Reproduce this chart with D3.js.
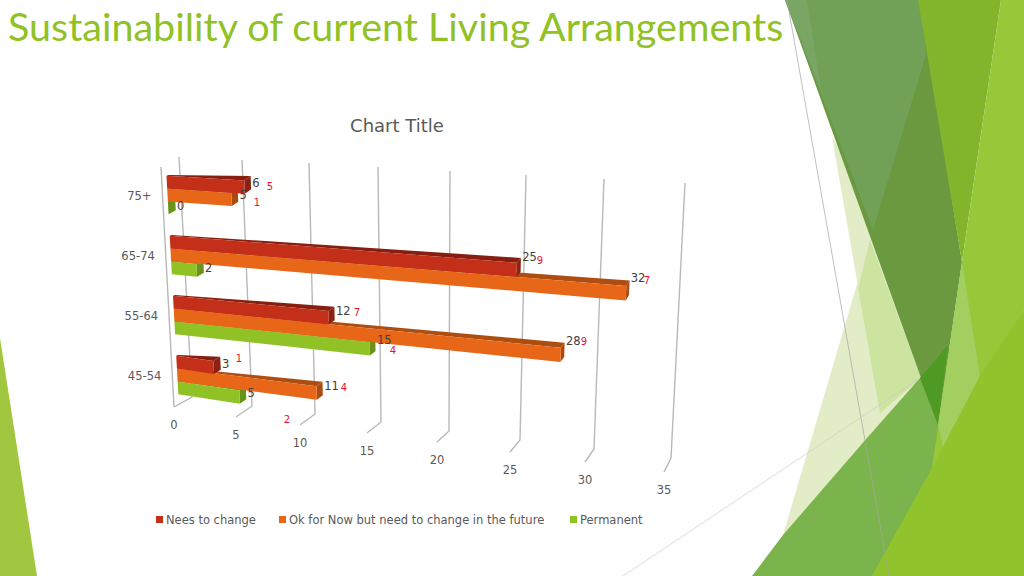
<!DOCTYPE html>
<html lang="en">

<head>
  <meta charset="UTF-8">
  <title>Sustainability of current Living Arrangements</title>
  <script src="https://d3js.org/d3.v7.min.js"></script>
  <style>
    html, body { margin: 0; padding: 0; background: #fff; overflow: hidden; }
    text { font-family: "DejaVu Sans", sans-serif; fill: #595959; }
  </style>
</head>

<body>
  <script>
    // bottom row first, the chart stacks the groups upward
    const categories = ["45-54", "55-64", "65-74", "75+"];
    const seriesNames = ["Nees to change", "Ok for Now but need to change in the future", "Permanent"];
    const needsChange = [3, 12, 25, 6];
    const okForNow = [11, 28, 32, 5];
    const permanent = [5, 15, 2, 0];
    const valueTicks = [0, 5, 10, 15, 20, 25, 30, 35];
    const seriesColors = ["#C42F1A", "#E76618", "#90C226"];
    const sideColors = ["#8A2112", "#A94C12", "#6A9419"];
    const topColors = ["#861F10", "#AD4E10", "#709A1C"];

    // red hand written notes on the slide
    const noteLabels = ["5", "1", "9", "7", "7", "9", "4", "1", "4", "2"];

    var svg = d3.select("body").append("svg")
      .attr("width", 1024)
      .attr("height", 576);

    // slide decoration
    const decoration = [
      ["#E2EDC8", [[870, 240], [783, 535], [860, 576], [960, 400]]],
      ["#E2EDC8", [[832, 137], [880, 413], [925, 375], [900, 250]]],
      ["#CDE3A0", [[870, 240], [858, 288], [880, 413], [921, 378]]],
      ["#7BB44C", [[752, 576], [783, 535], [867, 438], [920, 378], [948, 345], [965, 440], [880, 576]]],
      ["#6B993F", [[785, 0], [920, 0], [962, 262], [938, 425]]],
      ["#70A157", [[785, 0], [920, 0], [926, 55], [873, 230]]],
      ["#79A565", [[785, 0], [807, 0], [821, 90]]],
      ["#4F9A23", [[920, 378], [948, 345], [938, 425]]],
      ["#83B52C", [[918, 0], [1001, 0], [962, 262]]],
      ["#96C83A", [[1001, 0], [1024, 0], [1024, 310], [872, 576], [915, 576], [932, 468], [962, 262]]],
      ["#A2CF60", [[962, 262], [980, 376], [943, 447], [938, 425]]],
      ["#91C42C", [[872, 576], [932, 468], [980, 376], [1024, 310], [1024, 576]]],
      ["#A1C63F", [[0, 338], [37, 576], [0, 576]]]
    ];

    svg.selectAll(".deco")
      .data(decoration)
      .enter().append("polygon")
      .attr("class", "deco")
      .attr("fill", d => d[0])
      .attr("points", d => d[1].join(" "));

    svg.append("line").attr("x1", 787).attr("y1", 0).attr("x2", 889).attr("y2", 576)
      .attr("stroke", "#a5a5a5").attr("stroke-width", 0.7);
    svg.append("line").attr("x1", 623).attr("y1", 576).attr("x2", 920).attr("y2", 378)
      .attr("stroke", "#ccc").attr("stroke-width", 0.7);

    svg.append("text")
      .attr("x", 8)
      .attr("y", 41)
      .style("font-family", "Lato")
      .style("font-size", "39.5px")
      .style("fill", "#90C226")
      .text("Sustainability of current Living Arrangements");

    svg.append("text")
      .attr("x", 397)
      .attr("y", 132)
      .attr("text-anchor", "middle")
      .style("font-size", "18px")
      .text("Chart Title");

    // the floor and back wall are not evenly spaced because of the perspective
    const frontX = d3.scaleLinear().domain(valueTicks).range([174, 236, 300, 367, 437, 510, 585, 664]);
    const frontY = d3.scaleLinear().domain(valueTicks).range([407, 417, 425, 433, 442, 452, 462, 472]);
    const backX = d3.scaleLinear().domain(valueTicks).range([192, 252, 315, 381, 449, 520, 594, 671]);
    const backY = d3.scaleLinear().domain(valueTicks).range([397, 406, 414, 422, 431, 440, 449, 458]);
    const topX = d3.scaleLinear().domain(valueTicks).range([179, 242, 309, 378, 450, 526, 604, 685]);
    const topY = d3.scaleLinear().domain(valueTicks).range([157, 160, 163, 167, 171, 175, 179, 183]);

    // v = value, h = height up the wall 0..1, d = depth front to back 0..1
    function project(v, h, d) {
      const x = frontX(v) + (backX(v) - frontX(v)) * d + (topX(v) - backX(v)) * h;
      const y = frontY(v) + (backY(v) - frontY(v)) * d + (topY(v) - backY(v)) * h;
      return [x, y];
    }

    const rowScale = d3.scaleBand()
      .domain(categories)
      .range([-0.003, 0.997])
      .paddingInner(0.36)
      .paddingOuter(0.18);

    // first series sits on top inside each group
    const seriesScale = d3.scaleBand()
      .domain([2, 1, 0])
      .range([0, rowScale.bandwidth()]);

    const depthFront = 0.27;
    const depthBack = 0.67;
    // the top face narrows to a sliver at the axis end
    const depthTopStart = 0.36;

    // gridlines
    const grid = svg.append("g");
    const gridLine = d3.line();
    valueTicks.forEach(function (t) {
      grid.append("path")
        .attr("d", gridLine([project(t, 1, 1), project(t, 0, 1), project(t, 0, 0)]))
        .attr("fill", "none")
        .attr("stroke", "#B8B8B8")
        .attr("stroke-width", 1.4);
    });
    grid.append("path")
      .attr("d", gridLine([project(0, 1, 0), project(0, 0, 0)]))
      .attr("fill", "none")
      .attr("stroke", "#B8B8B8")
      .attr("stroke-width", 1.4);

    svg.selectAll(".tick-label")
      .data(valueTicks)
      .enter().append("text")
      .attr("class", "tick-label")
      .attr("x", d => project(d, 0, 0)[0])
      .attr("y", d => project(d, 0, 0)[1] + 22)
      .attr("text-anchor", "middle")
      .style("font-size", "11.5px")
      .text(d => d);

    // category labels
    svg.selectAll(".cat-label")
      .data(categories)
      .enter().append("text")
      .attr("class", "cat-label")
      .attr("x", d => project(0, rowScale(d) + rowScale.bandwidth() / 2, depthFront)[0] - 16)
      .attr("y", d => project(0, rowScale(d) + rowScale.bandwidth() / 2, depthFront)[1] + 5)
      .attr("text-anchor", "end")
      .style("font-size", "11.5px")
      .text(d => d);

    // permanent first so that the upper bars cover its top face
    const seriesValues = [needsChange, okForNow, permanent];
    const bars = svg.append("g");
    const labelRows = [];
    [2, 1, 0].forEach(function (s) {
      categories.forEach(function (c, i) {
        const v = seriesValues[s][i];
        const h0 = rowScale(c) + seriesScale(s);
        const h1 = h0 + seriesScale.bandwidth();
        // top face
        bars.append("polygon")
          .attr("fill", topColors[s])
          .attr("points", [project(0, h1, depthFront), project(v, h1, depthFront), project(v, h1, depthBack), project(0, h1, depthTopStart)].join(" "));
        // right face
        bars.append("polygon")
          .attr("fill", sideColors[s])
          .attr("points", [project(v, h0, depthFront), project(v, h1, depthFront), project(v, h1, depthBack), project(v, h0, depthBack)].join(" "));
        // front face
        bars.append("polygon")
          .attr("fill", seriesColors[s])
          .attr("points", [project(0, h0, depthFront), project(v, h0, depthFront), project(v, h1, depthFront), project(0, h1, depthFront)].join(" "));
        labelRows.push({ v: v, h: (h0 + h1) / 2 });
      });
    });

    // labels drift upward along the bar length
    svg.selectAll(".value-label")
      .data(labelRows)
      .enter().append("text")
      .attr("class", "value-label")
      .attr("x", d => project(d.v, d.h, depthBack)[0] + 1.5)
      .attr("y", d => project(d.v, d.h, depthFront)[1] - d.v * 0.42 + 2)
      .style("font-size", "11.5px")
      .style("fill", "#404040")
      .text(d => d.v);

    const notePositions = [[270, 186], [257, 202], [540, 260], [647, 280], [357, 312], [584, 341], [393, 350], [239, 358], [344, 387], [287, 419]];
    svg.selectAll(".note")
      .data(noteLabels)
      .enter().append("text")
      .attr("class", "note")
      .attr("x", (d, i) => notePositions[i][0])
      .attr("y", (d, i) => notePositions[i][1] + 4)
      .attr("text-anchor", "middle")
      .style("font-size", "10px")
      .style("fill", "#E8112D")
      .text(d => d);

    // legend
    const legendX = [156, 279, 570];
    const legend = svg.selectAll(".legend")
      .data(seriesNames)
      .enter().append("g")
      .attr("class", "legend")
      .attr("transform", (d, i) => "translate(" + legendX[i] + ",516)");
    legend.append("rect")
      .attr("width", 7)
      .attr("height", 7)
      .attr("fill", (d, i) => seriesColors[i]);
    legend.append("text")
      .attr("x", 10)
      .attr("y", 8)
      .style("font-size", "11.5px")
      .text(d => d);
  </script>
</body>

</html>
